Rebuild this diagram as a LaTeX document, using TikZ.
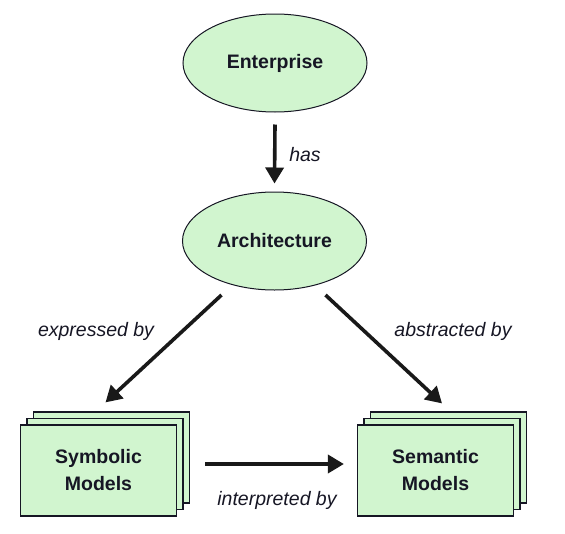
\documentclass[tikz,border=0pt]{standalone}
\usepackage{fontspec}
\setmainfont{Liberation Sans}
\usetikzlibrary{shapes.geometric,shadows,calc,arrows.meta}
\definecolor{modelgreen}{RGB}{209,245,207}
\definecolor{inkdark}{RGB}{22,22,36}
\begin{document}
\begin{tikzpicture}[x=1pt, y=-1pt,
  every node/.style = {font=\fontsize{19.5}{27}\selectfont, text=inkdark},
  concept/.style = {shape=ellipse, draw=inkdark, line width=1pt,
    fill=modelgreen, minimum width=184pt, minimum height=98pt,
    inner sep=0pt, font=\fontsize{19.5}{27}\selectfont\bfseries},
  stack/.style = {shape=rectangle, draw=inkdark, line width=1.2pt,
    fill=modelgreen, minimum width=156pt, minimum height=91pt,
    align=center, font=\fontsize{19.5}{27}\selectfont\bfseries,
    double copy shadow={shadow xshift=6.5pt, shadow yshift=6.5pt,
      fill=modelgreen, draw=inkdark, line width=1.2pt}},
  link/.style = {draw=black!90, line width=3.6pt,
    -{Triangle[length=16pt, width=18pt]}},
  tag/.style = {font=\fontsize{19.5}{27}\selectfont\itshape}]
  \useasboundingbox (0,0) rectangle (565,533);
  \node[concept] (enterprise) at (275,63) {Enterprise};
  \node[concept] (architecture) at (274.5,241) {Architecture};
  \node[stack] (symbolic) at (98.5,470.5) {Symbolic\\Models};
  \node[stack] (semantic) at (435.5,470.5) {Semantic\\Models};
  % connectors
  \draw[link] ($(enterprise.south)+(0,12)$) -- ($(architecture.north)+(0,-8)$);
  \draw[link] ($(architecture.center)+(-53,54)$) -- ($(symbolic.north)+(7,-22)$);
  \draw[link] ($(architecture.center)+(51,54)$) -- ($(semantic.north)+(6.5,-21)$);
  \draw[link] ($(symbolic.east)+(28,-6.5)$) -- ($(semantic.west)+(-13,-6.5)$);
  % labels
  \node[tag] (hasl) at (305,155) {has};
  \node[tag] (expl) at (96,331) {expressed by};
  \node[tag] (absl) at (453,331) {abstracted by};
  \node[tag] (intl) at (277,500) {interpreted by};
\end{tikzpicture}
\end{document}
